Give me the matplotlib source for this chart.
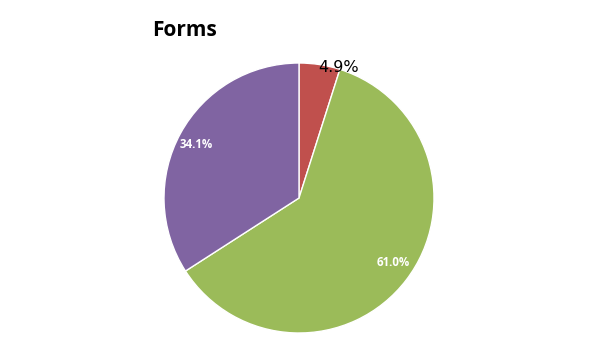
import matplotlib
matplotlib.use("Agg")
import matplotlib.pyplot as plt
import numpy as np

categories = ["A", "B", "C"]
values = [4.9, 61.0, 34.1]
colors = ["#C0504D", "#9BBB59", "#8064A2"]
title = "Forms"

fig = plt.figure(figsize=(6.05, 3.4), dpi=100)
ax = fig.add_axes([(299 - 135) / 605, (340 - 333) / 340, 270 / 605, 270 / 340])
wedges, texts, autotexts = ax.pie(values, colors=colors, startangle=90, counterclock=False,
                                  autopct=lambda p: f"{p:.1f}%", pctdistance=0.85,
                                  wedgeprops=dict(edgecolor="white", linewidth=1))
ax.set_xlim(-1, 1)
ax.set_ylim(-1, 1)
ax.set_aspect("equal")
ax.axis("off")

label_offsets = [(-8, 1.01), (3.1, 0.842), (1.3, 0.858)]
for i, (t, w) in enumerate(zip(autotexts, wedges)):
    dang, dist = label_offsets[i]
    ang = np.deg2rad((w.theta1 + w.theta2) / 2 + dang)
    t.set_position((dist * np.cos(ang), dist * np.sin(ang)))
    if i == 0:
        t.set_color("black")
        t.set_fontsize(11.5)
        t.set_family("DejaVu Sans")
    else:
        t.set_family("Open Sans")
        t.set_color("white")
        t.set_fontsize(8.3)
        t.set_fontweight("bold")

fig.text(185 / 605, 1 - 31 / 340, title, fontsize=15, fontweight="bold",
         family="Open Sans", ha="center", va="center")

fig.savefig("out.png", dpi=100)
